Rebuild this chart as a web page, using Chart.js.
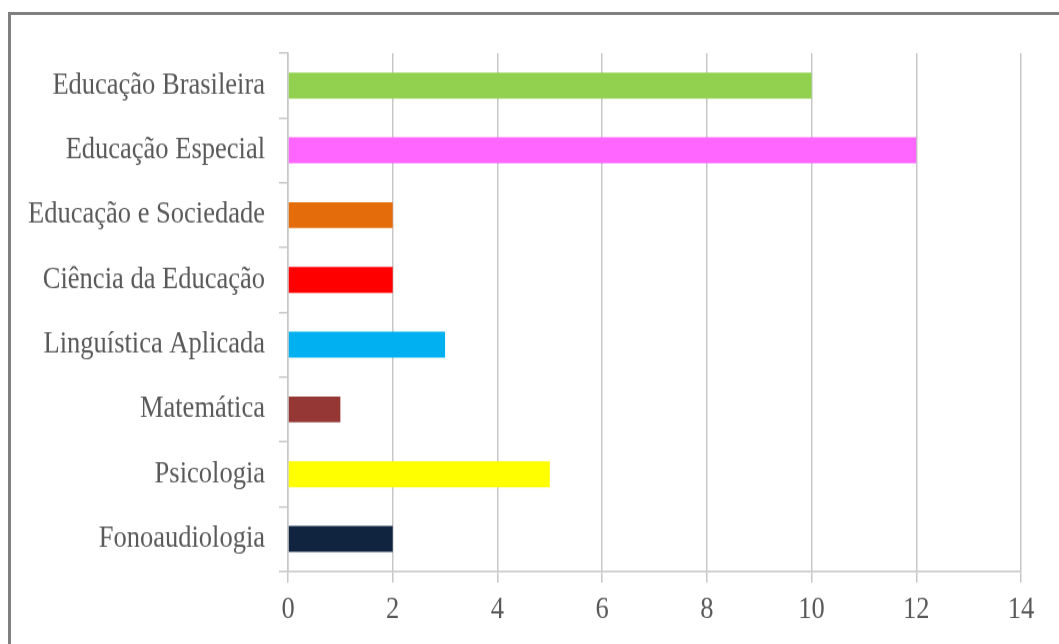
<!DOCTYPE html>
<html>
<head>
<meta charset="utf-8">
<script src="https://cdn.jsdelivr.net/npm/chart.js@4"></script>
<style>
  html, body { margin: 0; padding: 0; background: #ffffff; overflow: hidden; width: 1059px; height: 644px; }
  #frame { position: absolute; left: 8px; top: 12px; width: 1100px; height: 700px; border: 3px solid #808080; box-sizing: border-box; }
  #wrap { position: absolute; left: 0; top: 0; width: 1059px; height: 570px; transform: scaleY(1.1298); transform-origin: 0 0; }
</style>
</head>
<body>
<div id="frame"></div>
<div id="wrap"><canvas id="c" width="1059" height="570"></canvas></div>
<script>
const categories = [
  "Educação Brasileira",
  "Educação Especial",
  "Educação e Sociedade",
  "Ciência da Educação",
  "Linguística Aplicada",
  "Matemática",
  "Psicologia",
  "Fonoaudiologia"
];
const values = [10, 12, 2, 2, 3, 1, 5, 2];
const barColors = ["#92D050", "#FF66FF", "#E46C0A", "#FF0000", "#00B0F0", "#953735", "#FFFF00", "#10243F"];
const xTickMin = 0, xTickMax = 14, xTickStep = 2;

const font = { family: "'Liberation Serif', 'Times New Roman', serif", size: 26.5 };
const gridColor = "#c8c8c8";
const textColor = "#595959";

new Chart(document.getElementById("c"), {
  type: "bar",
  data: {
    labels: categories,
    datasets: [{
      data: values,
      backgroundColor: barColors,
      borderWidth: 0,
      barPercentage: 0.8,
      categoryPercentage: 0.5
    }]
  },
  options: {
    indexAxis: "y",
    responsive: false,
    animation: false,
    devicePixelRatio: 1,
    layout: { padding: { left: 10, right: 38, top: 47, bottom: 6.5 } },
    plugins: { legend: { display: false }, tooltip: { enabled: false } },
    scales: {
      x: {
        min: xTickMin, max: xTickMax,
        ticks: { stepSize: xTickStep, font: font, color: textColor, padding: 8 },
        grid: { color: gridColor, lineWidth: 1.5, tickLength: 10, drawTicks: true },
        border: { display: true, color: gridColor, width: 1.5 }
      },
      y: {
        afterFit: (s) => { s.width = 278; },
        ticks: { font: font, color: textColor, padding: 14 },
        grid: { color: gridColor, lineWidth: 1.5, drawOnChartArea: false, tickLength: 9, offset: true },
        border: { display: true, color: gridColor, width: 1.5 }
      }
    }
  }
});
</script>
</body>
</html>
